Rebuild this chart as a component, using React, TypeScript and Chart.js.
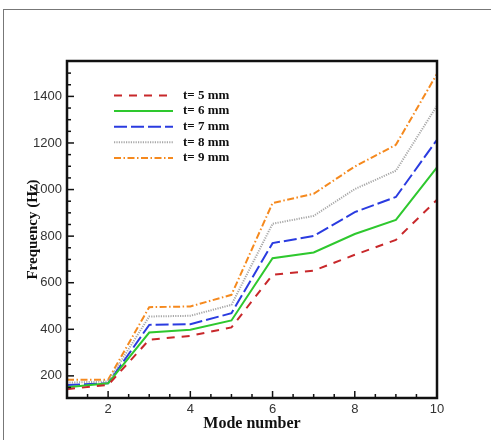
import React, { useEffect, useRef } from 'react';
import { Chart, registerables } from 'chart.js';

Chart.register(...registerables);

const modes = [1, 2, 3, 4, 5, 6, 7, 8, 9, 10];
const t5 = [143, 161, 355, 372, 408, 634, 652, 720, 784, 956];
const t6 = [151, 168, 386, 398, 438, 705, 730, 809, 870, 1095];
const t7 = [161, 168, 419, 422, 469, 770, 801, 903, 968, 1214];
const t8 = [171, 176, 455, 458, 505, 853, 887, 1002, 1081, 1360];
const t9 = [183, 183, 495, 498, 548, 942, 982, 1099, 1192, 1497];
const seriesLabels = ['t= 5 mm', 't= 6 mm', 't= 7 mm', 't= 8 mm', 't= 9 mm'];
const xMajorTicks = [2, 4, 6, 8, 10];
const xMinorTicks = [1.5, 2.5, 3, 3.5, 4.5, 5, 5.5, 6.5, 7, 7.5, 8.5, 9, 9.5];
const yMajorTicks = [200, 400, 600, 800, 1000, 1200, 1400];
const yMinorTicks = [150, 250, 300, 350, 450, 500, 550, 650, 700, 750, 850, 900, 950, 1050, 1100, 1150, 1250, 1300, 1350, 1450, 1500];

const seriesValues = [t5, t6, t7, t8, t9];
const seriesColors = ['#c8282b', '#2ec82e', '#2a3be0', '#a8a8a8', '#f5891e'];
const seriesDashes = [[8, 7], [], [13, 4], [1.2, 1.2], [7, 2.5, 1.5, 2.5]];

const framePlugin = {
  id: 'framePlugin',
  afterDatasetsDraw(chart: any) {
    const { ctx, chartArea: a, scales } = chart;
    const x = scales.x;
    const y = scales.y;
    ctx.save();
    ctx.strokeStyle = '#111';
    ctx.lineWidth = 1.5;
    ctx.setLineDash([]);
    const tick = (px: number, py: number, dx: number, dy: number) => {
      ctx.beginPath();
      ctx.moveTo(px, py);
      ctx.lineTo(px + dx, py + dy);
      ctx.stroke();
    };
    xMajorTicks.forEach((v) => tick(x.getPixelForValue(v), a.bottom, 0, -7));
    xMinorTicks.forEach((v) => tick(x.getPixelForValue(v), a.bottom, 0, -4));
    yMajorTicks.forEach((v) => tick(a.left, y.getPixelForValue(v), 7, 0));
    yMinorTicks.forEach((v) => tick(a.left, y.getPixelForValue(v), 4, 0));
    ctx.lineWidth = 2.5;
    ctx.strokeRect(a.left, a.top, a.right - a.left, a.bottom - a.top);

    // legend
    chart.data.datasets.forEach((ds: any, i: number) => {
      const ly = a.top + 34.5 + i * 15.6;
      ctx.strokeStyle = ds.borderColor;
      ctx.lineWidth = 2;
      ctx.setLineDash(ds.borderDash || []);
      ctx.beginPath();
      ctx.moveTo(a.left + 47, ly);
      ctx.lineTo(a.left + 106, ly);
      ctx.stroke();
      ctx.setLineDash([]);
      ctx.fillStyle = '#111';
      ctx.font = 'bold 13px "Liberation Serif"';
      ctx.textAlign = 'left';
      ctx.textBaseline = 'middle';
      ctx.fillText(ds.label, a.left + 116, ly);
    });
    ctx.restore();
  },
};

export default function App() {
  const ref = useRef<HTMLCanvasElement>(null);
  useEffect(() => {
    if (!ref.current) return;
    const chart = new Chart(ref.current, {
      type: 'line',
      data: {
        datasets: seriesValues.map((vals, i) => ({
          label: seriesLabels[i],
          data: modes.map((m, j) => ({ x: m, y: vals[j] })),
          borderColor: seriesColors[i],
          backgroundColor: seriesColors[i],
          borderDash: seriesDashes[i],
          borderWidth: 2,
          pointRadius: 0,
          tension: 0,
          fill: false,
        })),
      },
      options: {
        animation: false,
        responsive: false,
        layout: { padding: { top: 61, right: 54, bottom: 0, left: 0 } },
        plugins: { legend: { display: false }, tooltip: { enabled: false } },
        scales: {
          x: {
            type: 'linear',
            min: 1,
            max: 10,
            grid: { display: false, drawTicks: false },
            border: { display: false },
            afterBuildTicks: (s: any) => {
              s.ticks = xMajorTicks.map((v) => ({ value: v }));
            },
            afterFit: (s: any) => {
              s.height = 42;
            },
            ticks: {
              padding: 4,
              maxRotation: 0,
              autoSkip: false,
              color: '#333',
              callback: (v: any) => String(v),
              font: { family: '"Liberation Sans", Arial', size: 13 },
            },
            title: {
              display: true,
              text: 'Mode number',
              color: '#111',
              font: { family: '"Liberation Serif"', size: 16, weight: 'bold' },
              padding: { top: 0, bottom: 7 },
            },
          },
          y: {
            type: 'linear',
            min: 105,
            max: 1552,
            grid: { display: false, drawTicks: false },
            border: { display: false },
            afterBuildTicks: (s: any) => {
              s.ticks = yMajorTicks.map((v) => ({ value: v }));
            },
            afterFit: (s: any) => {
              s.width = 67;
            },
            ticks: {
              padding: 5,
              autoSkip: false,
              color: '#333',
              callback: (v: any) => String(v),
              font: { family: '"Liberation Sans", Arial', size: 13 },
            },
            title: {
              display: true,
              text: 'Frequency (Hz)',
              color: '#111',
              font: { family: '"Liberation Serif"', size: 15, weight: 'bold' },
              padding: { top: 24, bottom: 0 },
            },
          },
        },
      },
      plugins: [framePlugin],
    } as any);
    return () => chart.destroy();
  }, []);
  return (
    <div style={{ position: 'absolute', left: 0, top: 0, width: 491, height: 440, background: '#fff', overflow: 'hidden' }}>
      <div
        style={{
          position: 'absolute',
          left: 3,
          top: 9,
          width: 500,
          height: 440,
          borderTop: '1px solid #777',
          borderLeft: '1px solid #777',
        }}
      />
      <canvas ref={ref} width={491} height={440} style={{ position: 'absolute', left: 0, top: 0 }} />
    </div>
  );
}
